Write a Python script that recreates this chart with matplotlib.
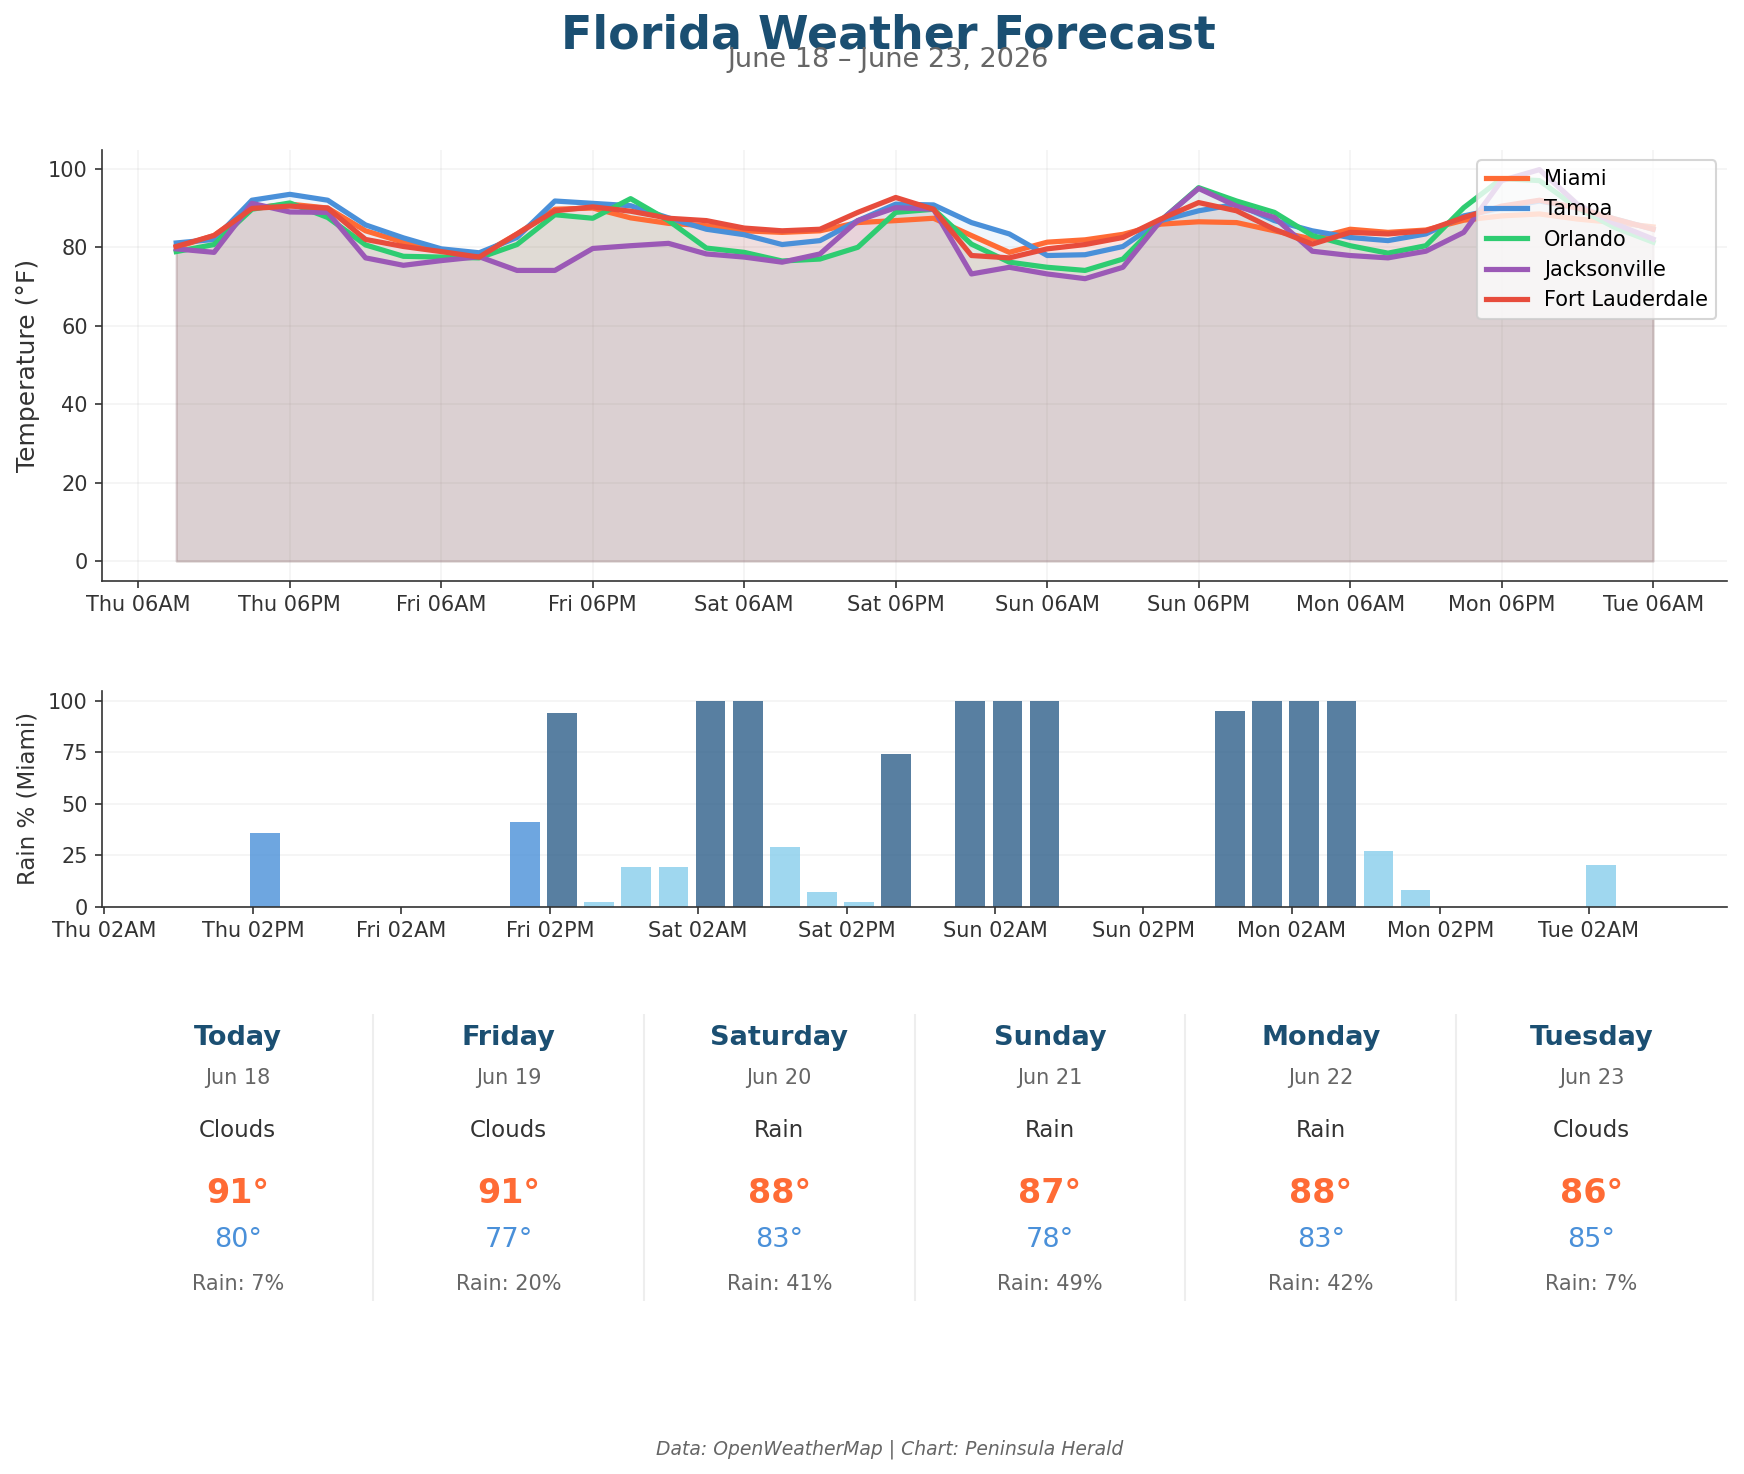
import numpy as np
import pandas as pd
import matplotlib
matplotlib.use("Agg")
import matplotlib.pyplot as plt
import matplotlib.dates as mdates

# 3-hourly forecast, Thu Jun 18 09:00 -> Tue Jun 23 06:00
times = pd.date_range("2026-06-18 09:00", periods=40, freq="3h")

miami = [80.0, 83.0, 90.0, 91.0, 90.0, 84.2, 81.3, 79.2, 77.8, 83.4,
         89.7, 90.0, 87.5, 86.1, 85.5, 84.2, 83.8, 84.2, 86.3, 86.8,
         87.4, 83.0, 78.7, 81.3, 81.9, 83.3, 85.9, 86.5, 86.3, 84.2,
         82.1, 84.6, 83.8, 84.4, 86.9, 88.0, 88.5, 87.2, 86.3, 85.2]
tampa = [81.1, 82.0, 92.0, 93.5, 92.0, 85.7, 82.4, 79.6, 78.6, 82.5,
         91.8, 91.2, 90.6, 87.5, 84.6, 83.2, 80.7, 81.7, 86.8, 91.0,
         90.8, 86.3, 83.4, 77.9, 78.1, 80.2, 86.8, 89.3, 91.0, 86.8,
         84.2, 82.5, 81.7, 83.4, 88.0, 90.0, 91.8, 90.0, 87.2, 84.6]
orlando = [78.9, 80.7, 89.7, 91.3, 87.6, 80.6, 77.7, 77.5, 77.3, 80.7,
           88.3, 87.4, 92.4, 86.8, 79.8, 78.7, 76.5, 77.0, 80.0, 88.9,
           89.7, 80.8, 76.2, 74.9, 74.1, 77.0, 86.8, 95.2, 91.8, 88.9,
           83.0, 80.4, 78.5, 80.4, 90.1, 97.5, 97.0, 90.0, 85.0, 81.3]
jacksonville = [79.6, 78.7, 91.2, 89.0, 88.9, 77.3, 75.4, 76.6, 77.6, 74.1,
                74.1, 79.7, 80.4, 81.0, 78.3, 77.5, 76.2, 78.3, 86.8, 90.1,
                89.7, 73.2, 74.9, 73.2, 72.0, 74.9, 86.8, 95.0, 90.5, 87.6,
                79.0, 77.9, 77.3, 79.0, 83.8, 97.0, 99.8, 91.0, 86.0, 82.1]
fort_lauderdale = [80.2, 83.0, 89.9, 90.5, 90.0, 82.0, 80.2, 78.9, 77.5, 83.4,
                   89.3, 90.3, 89.2, 87.4, 86.8, 84.9, 84.2, 84.6, 88.9, 92.7,
                   89.7, 77.9, 77.3, 79.6, 80.7, 82.5, 87.2, 91.4, 89.3, 84.6,
                   80.8, 83.8, 83.4, 84.2, 87.6, 90.5, 92.0, 90.0, 87.2, 84.6]

rain_miami = [0, 0, 36, 0, 0, 0, 0, 0, 0, 41,
              94, 2, 19, 19, 100, 100, 29, 7, 2, 74,
              0, 100, 100, 100, 0, 0, 0, 0, 95, 100,
              100, 100, 27, 8, 0, 0, 0, 0, 20, 0]

cities = ["Miami", "Tampa", "Orlando", "Jacksonville", "Fort Lauderdale"]
city_temps = [miami, tampa, orlando, jacksonville, fort_lauderdale]
city_colors = ["#FF6B35", "#4A90D9", "#2ECC71", "#9B59B6", "#E74C3C"]

day_names = ["Today", "Friday", "Saturday", "Sunday", "Monday", "Tuesday"]
day_dates = ["Jun 18", "Jun 19", "Jun 20", "Jun 21", "Jun 22", "Jun 23"]
day_conditions = ["Clouds", "Clouds", "Rain", "Rain", "Rain", "Clouds"]
day_highs = [91, 91, 88, 87, 88, 86]
day_lows = [80, 77, 83, 78, 83, 85]
day_rain = [7, 20, 41, 49, 42, 7]

NAVY = "#1B4F72"

fig = plt.figure(figsize=(1744 / 150, 1474 / 150), dpi=150)

fig.text(0.5095, 0.9755, "Florida Weather Forecast", ha="center", va="center",
         fontsize=22, fontweight="bold", color=NAVY)
fig.text(0.5095, 0.9595, "June 18 \u2013 June 23, 2026", ha="center", va="center",
         fontsize=13, color="#666666")

# temperature panel
ax1 = fig.add_axes([0.0587, 0.6061, 0.9315, 0.2921])
for name, temps, c in zip(cities, city_temps, city_colors):
    ax1.plot(times, temps, color=c, linewidth=2.5, label=name)
    ax1.fill_between(times, 0, temps, color=c, alpha=0.08)

ax1.set_ylabel("Temperature (\u00b0F)", fontsize=12, color="#333333")
ax1.xaxis.set_major_locator(mdates.HourLocator(byhour=[6, 18]))
ax1.xaxis.set_major_formatter(mdates.DateFormatter("%a %I%p"))
ax1.grid(True, alpha=0.15)
ax1.legend(loc="upper right", fontsize=10)

# rain panel
ax2 = fig.add_axes([0.0587, 0.385, 0.9315, 0.1464])
bar_colors = []
for r in rain_miami:
    if r >= 50:
        bar_colors.append("#2E5F8A")
    elif r >= 30:
        bar_colors.append("#4A90D9")
    else:
        bar_colors.append("#87CEEB")
ax2.bar(times, rain_miami, width=0.1, color=bar_colors, alpha=0.8)
ax2.set_ylim(0, 105)
ax2.set_yticks([0, 25, 50, 75, 100])
ax2.set_ylabel("Rain % (Miami)", fontsize=11, color="#333333")
ax2.xaxis.set_major_locator(mdates.HourLocator(byhour=[2, 14]))
ax2.xaxis.set_major_formatter(mdates.DateFormatter("%a %I%p"))
ax2.grid(True, axis="y", alpha=0.15)

for ax in (ax1, ax2):
    ax.spines["top"].set_visible(False)
    ax.spines["right"].set_visible(False)
    ax.spines["left"].set_color("#333333")
    ax.spines["bottom"].set_color("#333333")
    ax.tick_params(colors="#333333", labelsize=10)
    ax.set_axisbelow(True)

# daily summary cards
ax3 = fig.add_axes([0.0587, 0.1173, 0.9315, 0.1947])
ax3.set_xlim(0, 6)
ax3.set_ylim(0, 1)
ax3.axis("off")
for k in range(6):
    xc = k + 0.5
    ax3.text(xc, 0.918, day_names[k], ha="center", va="center",
             fontsize=13, fontweight="bold", color=NAVY)
    ax3.text(xc, 0.779, day_dates[k], ha="center", va="center",
             fontsize=10, color="#666666")
    ax3.text(xc, 0.593, day_conditions[k], ha="center", va="center",
             fontsize=11, color="#333333")
    ax3.text(xc, 0.376, f"{day_highs[k]}\u00b0", ha="center", va="center",
             fontsize=16, fontweight="bold", color="#FF6B35")
    ax3.text(xc, 0.213, f"{day_lows[k]}\u00b0", ha="center", va="center",
             fontsize=13, color="#4A90D9")
    ax3.text(xc, 0.061, f"Rain: {day_rain[k]}%", ha="center", va="center",
             fontsize=10, color="#666666")
    if k > 0:
        ax3.plot([k, k], [0, 1], color="#eeeeee", linewidth=1)

fig.text(0.51, 0.017, "Data: OpenWeatherMap | Chart: Peninsula Herald",
         ha="center", va="center", fontsize=9, style="italic", color="#666666")

fig.savefig("out.png", dpi=150)
